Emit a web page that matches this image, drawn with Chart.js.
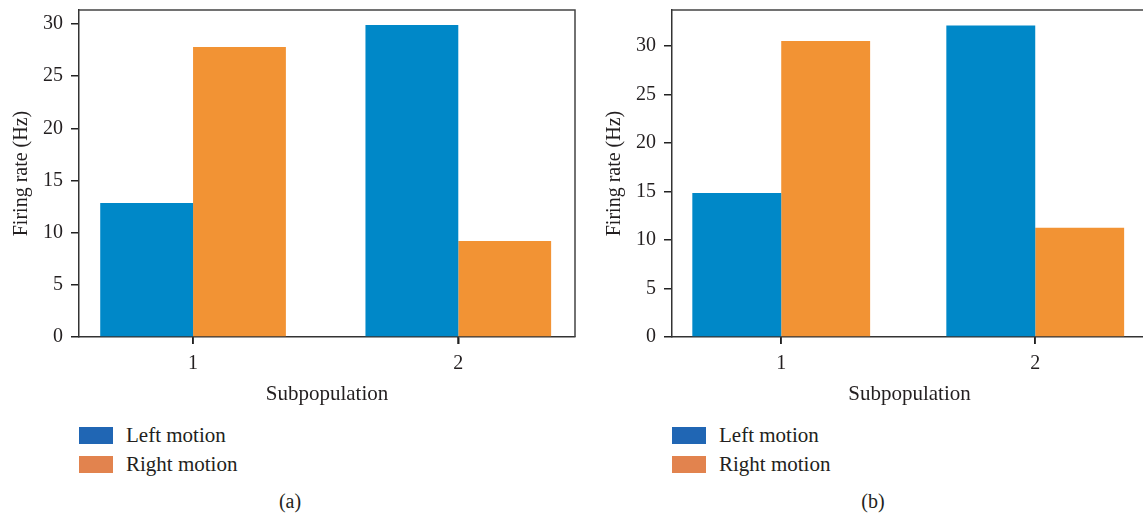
<!DOCTYPE html>
<html>
<head>
<meta charset="utf-8">
<script src="https://cdn.jsdelivr.net/npm/chart.js@4/dist/chart.umd.min.js"></script>
<style>
body { margin: 0; background: #fff; }
#wrap { position: relative; width: 1143px; height: 516px; overflow: hidden; font-family: 'Liberation Serif', serif; color: #231f20; }
canvas { position: absolute; top: 0; }
#chartA { left: 0; }
#chartB { left: 593px; }
.legend { position: absolute; top: 427px; font-size: 21px; }
.item { position: relative; height: 29px; }
.swatch { position: absolute; left: 0; top: 0; width: 34px; height: 17px; }
.label { position: absolute; left: 47px; top: -4px; white-space: nowrap; line-height: 24px; }
.tag { position: absolute; top: 490px; font-size: 20px; width: 60px; text-align: center; }
</style>
</head>
<body>
<div id="wrap">
  <canvas id="chartA" width="580" height="410"></canvas>
  <canvas id="chartB" width="560" height="410"></canvas>
  <div class="legend" id="legendA" style="left:79px"></div>
  <div class="legend" id="legendB" style="left:672px"></div>
  <div class="tag" style="left:260px">(a)</div>
  <div class="tag" style="left:843px">(b)</div>
</div>
<script>
const subpops = [1, 2];
const seriesNames = ['Left motion', 'Right motion'];
const barColors = ['#0088c8', '#f29334'];
const legendColors = ['#2066b4', '#e2834e'];
const leftA = [12.85, 29.9];
const rightA = [27.8, 9.2];
const leftB = [14.85, 32.1];
const rightB = [30.5, 11.25];
const yTicks = [0, 5, 10, 15, 20, 25, 30];
const yMaxA = 31.35;
const yMaxB = 33.7;

const ink = '#231f20';
const axisColor = '#333';
const font = { family: "'Liberation Serif', serif", size: 20 };

// top/right frame of the plot box, plus the x tick marks
const framePlugin = {
  id: 'frame',
  afterDraw: (chart) => {
    const { ctx, chartArea } = chart;
    const xs = chart.scales.x;
    ctx.save();
    ctx.strokeStyle = '#444';
    ctx.lineWidth = 1.5;
    ctx.beginPath();
    ctx.moveTo(chartArea.left, chartArea.top);
    ctx.lineTo(chartArea.right, chartArea.top);
    ctx.lineTo(chartArea.right, chartArea.bottom);
    ctx.stroke();
    ctx.strokeStyle = '#222';
    ctx.beginPath();
    subpops.forEach(v => {
      const px = Math.round(xs.getPixelForValue(v));
      ctx.moveTo(px, xs.top);
      ctx.lineTo(px, xs.top + 7);
    });
    ctx.stroke();
    ctx.restore();
  }
};

const makeChart = (id, left, right, yMax, padRight) => {
  const series = [left, right];
  return new Chart(document.getElementById(id), {
    type: 'bar',
    data: {
      datasets: series.map((vals, i) => ({
        label: seriesNames[i],
        backgroundColor: barColors[i],
        borderWidth: 0,
        categoryPercentage: 0.7,
        barPercentage: 1.0,
        data: vals.map((v, j) => ({ x: subpops[j], y: v }))
      }))
    },
    options: {
      responsive: false,
      animation: false,
      layout: { padding: { top: 10, right: padRight, left: 0, bottom: 0 } },
      plugins: { legend: { display: false }, tooltip: { enabled: false } },
      scales: {
        x: {
          type: 'linear',
          offset: false,
          min: 0.57,
          max: 2.44,
          afterBuildTicks: (s) => { s.ticks = subpops.map(v => ({ value: v })); },
          afterFit: (s) => { s.height = 73; s.paddingLeft = 0; s.paddingRight = 0; },
          grid: { offset: false, drawOnChartArea: false, drawTicks: true, tickLength: 7, color: axisColor, tickColor: '#222', lineWidth: 1.5, tickWidth: 1.5 },
          border: { display: true, color: axisColor, width: 1.5 },
          ticks: { color: ink, font: font, padding: 8 },
          title: { display: true, text: 'Subpopulation', color: ink, font: { family: font.family, size: 21 }, padding: { top: 0, bottom: 3 } }
        },
        y: {
          min: 0,
          max: yMax,
          afterBuildTicks: (s) => { s.ticks = yTicks.map(v => ({ value: v })); },
          afterFit: (s) => { s.width = 79; s.paddingTop = 0; s.paddingBottom = 0; },
          grid: { drawOnChartArea: false, drawTicks: true, tickLength: 8, color: axisColor, tickColor: '#222', lineWidth: 1.5, tickWidth: 1.5 },
          border: { display: true, color: axisColor, width: 1.5 },
          ticks: { color: ink, font: font, padding: 8 },
          title: { display: true, text: 'Firing rate (Hz)', color: ink, font: { family: font.family, size: 20 }, padding: { top: 10, bottom: 0 } }
        }
      }
    },
    plugins: [framePlugin]
  });
};

makeChart('chartA', leftA, rightA, yMaxA, 5);
makeChart('chartB', leftB, rightB, yMaxB, 6);

const buildLegend = (id) => {
  const el = document.getElementById(id);
  seriesNames.forEach((name, i) => {
    const item = document.createElement('div');
    item.className = 'item';
    item.innerHTML = `<div class="swatch" style="background:${legendColors[i]}"></div><div class="label">${name}</div>`;
    el.appendChild(item);
  });
};
buildLegend('legendA');
buildLegend('legendB');
</script>
</body>
</html>
